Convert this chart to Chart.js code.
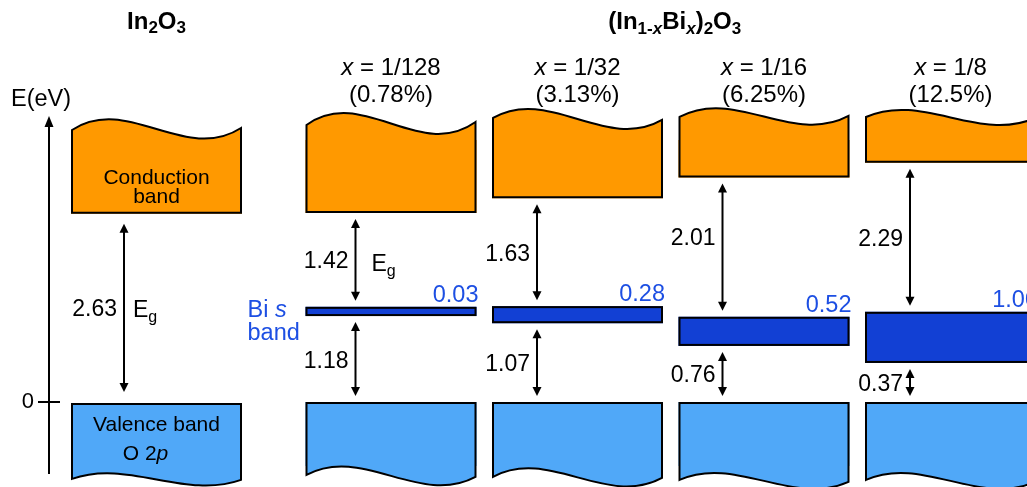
<!DOCTYPE html>
<html>
<head>
<meta charset="utf-8">
<script src="https://cdn.jsdelivr.net/npm/chart.js@4/dist/chart.umd.min.js"></script>
<style>
html,body{margin:0;padding:0;background:#fff;overflow:hidden;width:1027px;height:487px;}
#wrap{position:relative;width:1027px;height:487px;overflow:hidden;background:#fff;}
#wrap canvas{position:absolute;top:0;left:0;}
</style>
</head>
<body>
<div id="wrap">
<canvas id="host" width="290" height="487"></canvas>
<canvas id="series" width="1046" height="487"></canvas>
</div>
<script>
// ---------------- data (eV; valence-band maximum = 0) ----------------
const HOST_LABEL = ['In₂O₃'];
const HOST_GAP = [2.63];             // labelled band gap
const HOST_CB_MIN = [2.65];          // conduction band minimum as drawn
const HOST_VB_MAX = [0];

const X_FRACTION = ['1/128', '1/32', '1/16', '1/8'];
const X_PERCENT = ['0.78%', '3.13%', '6.25%', '12.5%'];
const GAP_CB_BI = [1.42, 1.63, 2.01, 2.29];     // labelled gap CB -> Bi s band
const GAP_BI_VB = [1.18, 1.07, 0.76, 0.37];     // labelled gap Bi s band -> VB
const BI_WIDTH = ['0.03', '0.28', '0.52', '1.00']; // labelled Bi s band width
const CB_MIN = [2.66, 2.87, 3.16, 3.37];        // schematic levels as drawn
const BI_TOP = [1.34, 1.35, 1.20, 1.27];
const BI_BOTTOM = [1.21, 1.11, 0.79, 0.55];
const VB_MAX = [0, 0, 0, 0];

const Y_TICKS = [0];
const Y_MIN = -1, Y_MAX = 3.887;
const BLOCK_TOP = 3.69, BLOCK_BOTTOM = -0.90;   // extent of the drawn band blocks

// ---------------- styles ----------------
const FONT = '"Liberation Sans", Arial, Helvetica, sans-serif';
const ORANGE = '#ff9900';
const LIGHT_BLUE = '#50a8f8';
const BI_BLUE = '#1240d4';
const TEXT_BLUE = '#1d4fe3';
const HOST_WAVES = {top: {l: -10, r: -12, d: 36}, bottom: {l: 13, r: 14, d: 20}};
const CB_WAVES = [{l: -15, r: -18, d: 40}, {l: -22, r: -20, d: 32}, {l: -23, r: -24, d: 30}, {l: -23, r: -22, d: 25}];
const VB_WAVES = [{l: 9, r: 11, d: 30}, {l: 11, r: 12, d: 30}, {l: 14, r: 16, d: 25}, {l: 14, r: 16, d: 25}];
const ARROW_DX = [50, 45, 44, 45];
const UPPER_LABEL_DY = [0, 0, -11, 0];

function fnt(p) { return `${p.style || 'normal'} ${p.weight || 'normal'} ${p.size}px ${FONT}`; }
function drawRich(ctx, parts, x, baseline, align, color) {
  ctx.save();
  ctx.textAlign = 'left'; ctx.textBaseline = 'alphabetic';
  let w = 0;
  parts.forEach(p => { ctx.font = fnt(p); w += ctx.measureText(p.t).width; });
  let cx = align === 'center' ? x - w / 2 : align === 'right' ? x - w : x;
  parts.forEach(p => {
    ctx.font = fnt(p);
    ctx.fillStyle = p.color || color || '#000';
    ctx.fillText(p.t, cx, baseline + (p.dy || 0));
    cx += ctx.measureText(p.t).width;
  });
  ctx.restore();
}
function drawArrow(ctx, x, y1, y2) {
  const hl = 9, hw = 4.5;
  ctx.save();
  ctx.strokeStyle = '#000'; ctx.fillStyle = '#000'; ctx.lineWidth = 2;
  ctx.beginPath(); ctx.moveTo(x, y1 + hl - 1); ctx.lineTo(x, y2 - hl + 1); ctx.stroke();
  ctx.beginPath(); ctx.moveTo(x, y1); ctx.lineTo(x - hw, y1 + hl); ctx.lineTo(x + hw, y1 + hl); ctx.closePath(); ctx.fill();
  ctx.beginPath(); ctx.moveTo(x, y2); ctx.lineTo(x - hw, y2 - hl); ctx.lineTo(x + hw, y2 - hl); ctx.closePath(); ctx.fill();
  ctx.restore();
}
// Fill the wavy cap of a band block and stroke the whole outline of block + cap.
function wavyBlock(ctx, bar, wave, color, isTop) {
  const x0 = bar.x - bar.width / 2, x1 = bar.x + bar.width / 2, w = x1 - x0;
  const top = Math.min(bar.y, bar.base), bottom = Math.max(bar.y, bar.base);
  const edge = isTop ? top : bottom;          // wavy edge side
  const flat = isTop ? bottom - 1 : top + 1;  // straight edge side
  const inner = isTop ? edge + 2 : edge - 2;
  const yL = edge + wave.l, yR = edge + wave.r;
  const curve = () => ctx.bezierCurveTo(x0 + w / 3, yL - wave.d, x0 + 2 * w / 3, yR + wave.d, x1 - 1, yR);
  ctx.save();
  ctx.beginPath();
  ctx.moveTo(x0 + 1, inner); ctx.lineTo(x0 + 1, yL); curve(); ctx.lineTo(x1 - 1, inner); ctx.closePath();
  ctx.fillStyle = color; ctx.fill();
  ctx.beginPath();
  ctx.moveTo(x0 + 1, flat); ctx.lineTo(x0 + 1, yL); curve(); ctx.lineTo(x1 - 1, flat); ctx.closePath();
  ctx.strokeStyle = '#000'; ctx.lineWidth = 2; ctx.lineJoin = 'miter'; ctx.stroke();
  ctx.restore();
}
function outlineBar(ctx, bar) {
  const x0 = bar.x - bar.width / 2;
  const top = Math.min(bar.y, bar.base), bottom = Math.max(bar.y, bar.base);
  ctx.save();
  ctx.strokeStyle = '#000'; ctx.lineWidth = 2;
  ctx.strokeRect(x0 + 1, top + 1, bar.width - 2, bottom - top - 2);
  ctx.restore();
}

// ---------------- host (In2O3) chart ----------------
const hostPlugin = {
  id: 'hostDecor',
  afterDatasetsDraw(chart) {
    const ctx = chart.ctx, ys = chart.scales.y, area = chart.chartArea;
    const cb = chart.getDatasetMeta(0).data[0];
    const vb = chart.getDatasetMeta(1).data[0];
    wavyBlock(ctx, cb, HOST_WAVES.top, ORANGE, true);
    wavyBlock(ctx, vb, HOST_WAVES.bottom, LIGHT_BLUE, false);
    // energy axis arrow head and tick crossing
    const ax = area.left;
    ctx.save();
    ctx.fillStyle = '#000';
    ctx.beginPath(); ctx.moveTo(ax, area.top - 10); ctx.lineTo(ax - 4.5, area.top + 1); ctx.lineTo(ax + 4.5, area.top + 1); ctx.closePath(); ctx.fill();
    Y_TICKS.forEach(v => {
      const ty = Math.round(ys.getPixelForValue(v));
      ctx.strokeStyle = '#000'; ctx.lineWidth = 2;
      ctx.beginPath(); ctx.moveTo(ax, ty); ctx.lineTo(ax + 11, ty); ctx.stroke();
    });
    ctx.restore();
    drawRich(ctx, [{t: 'E(eV)', size: 23.5}], ax - 8, 106, 'center');
    // title
    drawRich(ctx, [{t: 'In', size: 24, weight: 'bold'}, {t: '2', size: 17, weight: 'bold', dy: 4},
                   {t: 'O', size: 24, weight: 'bold'}, {t: '3', size: 17, weight: 'bold', dy: 4}], cb.x, 29, 'center');
    // band names
    const yCB = ys.getPixelForValue(HOST_CB_MIN[0]);
    const yVB = ys.getPixelForValue(HOST_VB_MAX[0]);
    drawRich(ctx, [{t: 'Conduction', size: 21}], cb.x, yCB - 30, 'center');
    drawRich(ctx, [{t: 'band', size: 21}], cb.x, yCB - 11, 'center');
    drawRich(ctx, [{t: 'Valence band', size: 21}], vb.x, yVB + 29, 'center');
    drawRich(ctx, [{t: 'O 2', size: 21}, {t: 'p', size: 21, style: 'italic'}], vb.x - 11, yVB + 58, 'center');
    // gap arrow
    const left = cb.x - cb.width / 2;
    const arx = left + 53;
    const a1 = yCB + 10, a2 = yVB - 10, mid = (a1 + a2) / 2;
    drawArrow(ctx, arx, a1, a2);
    drawRich(ctx, [{t: HOST_GAP[0].toFixed(2), size: 23}], arx - 7, mid + 8.5, 'right');
    drawRich(ctx, [{t: 'E', size: 23}, {t: 'g', size: 16, dy: 5}], arx + 9, mid + 9.5, 'left');
  }
};

new Chart(document.getElementById('host'), {
  type: 'bar',
  data: {
    labels: HOST_LABEL,
    datasets: [
      {label: 'Conduction band', data: HOST_CB_MIN.map(v => [v, BLOCK_TOP]), backgroundColor: ORANGE, borderWidth: 0},
      {label: 'Valence band', data: HOST_VB_MAX.map(v => [BLOCK_BOTTOM, v]), backgroundColor: LIGHT_BLUE, borderWidth: 0}
    ]
  },
  options: {
    responsive: false, animation: false, devicePixelRatio: 1,
    layout: {padding: {top: 126, bottom: 14, left: 0, right: 26}},
    datasets: {bar: {grouped: false, categoryPercentage: 1, barPercentage: 171 / 215, inflateAmount: 0}},
    plugins: {legend: {display: false}, tooltip: {enabled: false}, title: {display: false}},
    scales: {
      x: {display: false},
      y: {
        min: Y_MIN, max: Y_MAX, position: 'left',
        afterBuildTicks: s => { s.ticks = Y_TICKS.map(v => ({value: v})); },
        afterFit: s => { s.width = 49; s.paddingTop = 0; s.paddingBottom = 0; },
        border: {display: true, color: '#000', width: 2},
        grid: {drawOnChartArea: false, drawTicks: true, tickLength: 11, color: '#000', lineWidth: 2},
        ticks: {color: '#000', font: {family: FONT, size: 22}, padding: 4}
      }
    }
  },
  plugins: [hostPlugin]
});

// ---------------- Bi-substituted series chart ----------------
const seriesPlugin = {
  id: 'seriesDecor',
  afterDatasetsDraw(chart) {
    const ctx = chart.ctx, ys = chart.scales.y, area = chart.chartArea;
    const cb = chart.getDatasetMeta(0).data;
    const bi = chart.getDatasetMeta(1).data;
    const vb = chart.getDatasetMeta(2).data;
    cb.forEach((bar, i) => wavyBlock(ctx, bar, CB_WAVES[i], ORANGE, true));
    vb.forEach((bar, i) => wavyBlock(ctx, bar, VB_WAVES[i], LIGHT_BLUE, false));
    bi.forEach(bar => outlineBar(ctx, bar));
    // group title
    const B = {size: 24, weight: 'bold'}, S = {size: 17, weight: 'bold', dy: 5};
    drawRich(ctx, [
      {t: '(In', ...B}, {t: '1-', ...S}, {t: 'x', ...S, style: 'italic'},
      {t: 'Bi', ...B}, {t: 'x', ...S, style: 'italic'}, {t: ')', ...B},
      {t: '2', ...S}, {t: 'O', ...B}, {t: '3', ...S}
    ], (area.left + area.right) / 2 + 4, 29, 'center');
    X_FRACTION.forEach((frac, i) => {
      const bar = bi[i];
      const left = bar.x - bar.width / 2, right = bar.x + bar.width / 2;
      // headers
      drawRich(ctx, [{t: 'x', size: 24, style: 'italic'}, {t: ' = ' + frac, size: 24}], bar.x, 75, 'center');
      drawRich(ctx, [{t: '(' + X_PERCENT[i] + ')', size: 24}], bar.x, 102, 'center');
      const yCB = ys.getPixelForValue(CB_MIN[i]);
      const yBT = ys.getPixelForValue(BI_TOP[i]);
      const yBB = ys.getPixelForValue(BI_BOTTOM[i]);
      const yVB = ys.getPixelForValue(VB_MAX[i]);
      const arx = left + ARROW_DX[i];
      const u1 = yCB + 6, u2 = yBT - 6, l1 = yBB + 6, l2 = yVB - 6;
      drawArrow(ctx, arx, u1, u2);
      drawArrow(ctx, arx, l1, l2);
      drawRich(ctx, [{t: GAP_CB_BI[i].toFixed(2), size: 23}], arx - 7, (u1 + u2) / 2 + 8.5 + UPPER_LABEL_DY[i], 'right');
      drawRich(ctx, [{t: GAP_BI_VB[i].toFixed(2), size: 23}], arx - 7, (l1 + l2) / 2 + 8.5, 'right');
      if (i === 0) {
        drawRich(ctx, [{t: 'E', size: 23}, {t: 'g', size: 16, dy: 5}], arx + 16, (u1 + u2) / 2 + 11.5, 'left');
        drawRich(ctx, [{t: 'Bi ', size: 23.5}, {t: 's', size: 23.5, style: 'italic'}], left - 58, yBT + 10, 'left', TEXT_BLUE);
        drawRich(ctx, [{t: 'band', size: 23.5}], left - 58, yBT + 33, 'left', TEXT_BLUE);
      }
      drawRich(ctx, [{t: BI_WIDTH[i], size: 23.5}], right + 2, yBT - 5, 'right', TEXT_BLUE);
    });
  }
};

new Chart(document.getElementById('series'), {
  type: 'bar',
  data: {
    labels: X_FRACTION,
    datasets: [
      {label: 'Conduction band', data: CB_MIN.map(v => [v, BLOCK_TOP]), backgroundColor: ORANGE, borderWidth: 0},
      {label: 'Bi s band', data: BI_BOTTOM.map((v, i) => [v, BI_TOP[i]]), backgroundColor: BI_BLUE, borderWidth: 0},
      {label: 'Valence band', data: VB_MAX.map(v => [BLOCK_BOTTOM, v]), backgroundColor: LIGHT_BLUE, borderWidth: 0}
    ]
  },
  options: {
    responsive: false, animation: false, devicePixelRatio: 1,
    layout: {padding: {top: 126, bottom: 14, left: 297.75, right: 2.25}},
    datasets: {bar: {grouped: false, categoryPercentage: 1, barPercentage: 171 / 186.5, inflateAmount: 0}},
    plugins: {legend: {display: false}, tooltip: {enabled: false}, title: {display: false}},
    scales: {
      x: {display: false},
      y: {display: false, min: Y_MIN, max: Y_MAX}
    }
  },
  plugins: [seriesPlugin]
});
</script>
</body>
</html>
